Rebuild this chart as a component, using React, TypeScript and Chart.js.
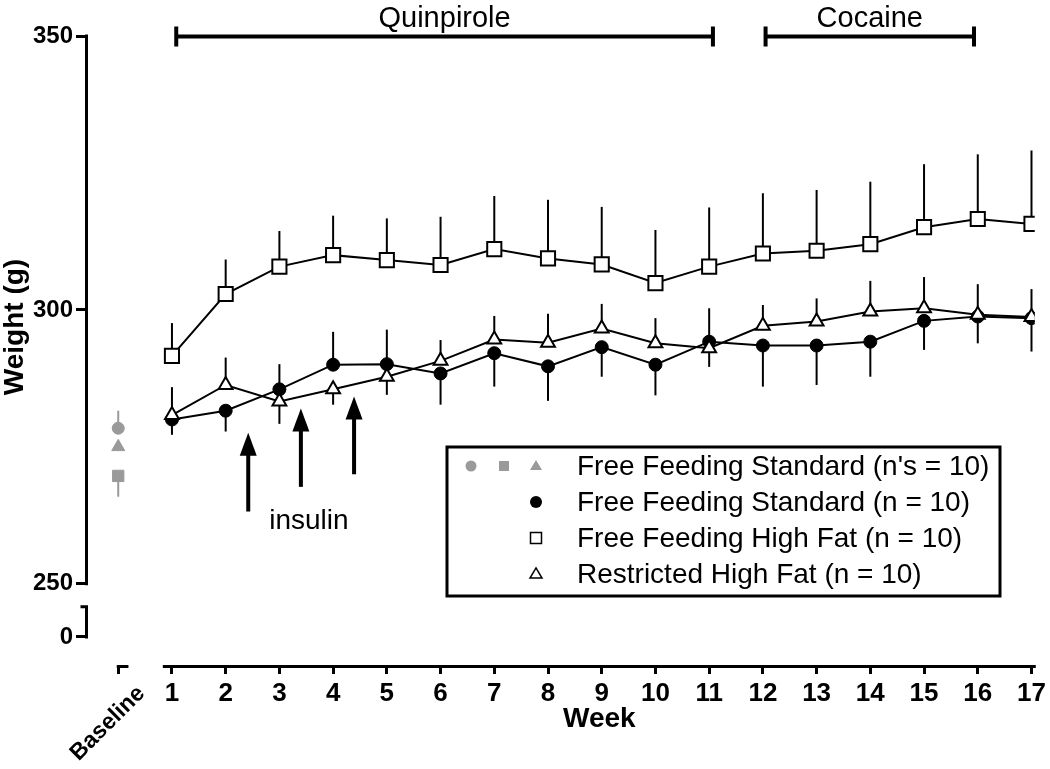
import React, { useEffect, useRef } from 'react';
import { Chart, registerables } from 'chart.js';

Chart.register(...registerables);

// ---------- data ----------
const weeks = [1, 2, 3, 4, 5, 6, 7, 8, 9, 10, 11, 12, 13, 14, 15, 16, 17];

const freeStdMean = [280.0, 281.6, 285.5, 290.0, 290.1, 288.4, 292.1, 289.7, 293.2, 290.0, 294.2, 293.5, 293.5, 294.2, 298.0, 298.8, 298.5];
const freeStdErrUp = [0, 0, 4.6, 6.0, 6.3, 0, 0, 0, 0, 0, 6.1, 0, 0, 0, 0, 0, 0];
const freeStdErrDown = [2.8, 3.8, 0, 0, 0, 5.7, 6.1, 6.3, 5.4, 5.6, 0, 7.5, 7.2, 6.4, 5.3, 4.9, 6.1];

const freeHfMean = [291.6, 302.9, 307.9, 310.0, 309.1, 308.2, 311.1, 309.4, 308.3, 304.9, 307.9, 310.3, 310.8, 312.0, 315.1, 316.6, 315.7];
const freeHfErrUp = [6.0, 6.3, 6.5, 7.2, 7.6, 8.8, 9.7, 10.7, 10.5, 9.7, 10.8, 11.0, 11.1, 11.4, 11.5, 11.8, 13.4];

const restrHfMean = [280.8, 286.3, 283.3, 285.5, 287.8, 290.7, 294.6, 294.0, 296.6, 293.9, 293.0, 297.1, 297.9, 299.7, 300.3, 299.1, 298.7];
const restrHfErrUp = [5.1, 5.0, 0, 0, 0, 3.8, 4.3, 5.3, 4.5, 4.6, 0, 3.8, 4.2, 5.6, 5.7, 5.6, 5.1];
const restrHfErrDown = [0, 0, 4.1, 2.8, 3.3, 0, 0, 0, 0, 0, 3.4, 0, 0, 0, 0, 0, 0];

const baselineWeek = 0;
const baselineShapes = ['circle', 'triangle', 'rect'];
const baselineMean = [278.4, 275.0, 269.7];
const baselineErrUp = [3.2, 0, 0];
const baselineErrDown = [0, 0, 3.8];

const yTickValues = [250, 300, 350];
const yBreakValue = 240.3; // where the "0" of the broken axis sits
const yBreakTop = 245.8;
const xTickValues = [0, 1, 2, 3, 4, 5, 6, 7, 8, 9, 10, 11, 12, 13, 14, 15, 16, 17];

const phaseLabels = ['Quinpirole', 'Cocaine'];
const phaseStart = [1.08, 12.05];
const phaseEnd = [11.07, 15.93];

const insulinWeeks = [2.42, 3.4, 4.39];
const insulinTop = [277.6, 282.0, 284.2];
const insulinBottom = [263.2, 267.7, 270.0];

const legendLabels = [
  "Free Feeding Standard (n's = 10)",
  'Free Feeding Standard (n = 10)',
  'Free Feeding High Fat (n = 10)',
  'Restricted High Fat (n = 10)',
];

// ---------- styles ----------
const GRAY = '#9a9a9a';
const FONT = '"Liberation Sans", Arial, Helvetica, sans-serif';
const NARROW = '"Liberation Sans Narrow", "Arial Narrow", "Liberation Sans", Arial, sans-serif';

function marker(ctx: CanvasRenderingContext2D, shape: string, x: number, y: number, s: number, fill: string, stroke: string, lw: number) {
  ctx.save();
  ctx.beginPath();
  if (shape === 'circle') {
    ctx.arc(x, y, s, 0, Math.PI * 2);
  } else if (shape === 'rect') {
    ctx.rect(x - s, y - s, 2 * s, 2 * s);
  } else {
    const h = s * 1.7;
    ctx.moveTo(x, y - h * 0.6);
    ctx.lineTo(x + s, y + h * 0.4);
    ctx.lineTo(x - s, y + h * 0.4);
    ctx.closePath();
  }
  ctx.fillStyle = fill;
  ctx.fill();
  if (lw > 0) {
    ctx.lineWidth = lw;
    ctx.strokeStyle = stroke;
    ctx.stroke();
  }
  ctx.restore();
}

export default function App() {
  const ref = useRef<HTMLCanvasElement>(null);

  useEffect(() => {
    document.body.style.margin = '0';
    const canvas = ref.current!;
    const toXY = (ys: number[]) => weeks.map((w, i) => ({ x: w, y: ys[i] }));

    const errorBars = {
      id: 'errorBars',
      beforeDatasetsDraw(chart: any) {
        const { ctx } = chart;
        const xs = chart.scales.x;
        const ys = chart.scales.y;
        chart.data.datasets.forEach((ds: any) => {
          ctx.save();
          ctx.strokeStyle = ds.errColor || '#000';
          ctx.lineWidth = 2;
          ds.data.forEach((p: any, i: number) => {
            const px = xs.getPixelForValue(p.x);
            const py = ys.getPixelForValue(p.y);
            const up = (ds.errUp && ds.errUp[i]) || 0;
            const dn = (ds.errDown && ds.errDown[i]) || 0;
            if (up > 0) {
              ctx.beginPath();
              ctx.moveTo(px, py);
              ctx.lineTo(px, ys.getPixelForValue(p.y + up));
              ctx.stroke();
            }
            if (dn > 0) {
              ctx.beginPath();
              ctx.moveTo(px, py);
              ctx.lineTo(px, ys.getPixelForValue(p.y - dn));
              ctx.stroke();
            }
          });
          ctx.restore();
        });
      },
    };

    const decor = {
      id: 'decor',
      afterDraw(chart: any) {
        const { ctx, chartArea } = chart;
        const xs = chart.scales.x;
        const ys = chart.scales.y;
        const X = (v: number) => xs.getPixelForValue(v);
        const Y = (v: number) => ys.getPixelForValue(v);
        ctx.save();
        ctx.strokeStyle = '#000';
        ctx.fillStyle = '#000';
        ctx.lineCap = 'butt';

        // y axis (broken)
        const ax = chartArea.left + 0.5;
        ctx.lineWidth = 3;
        ctx.beginPath();
        ctx.moveTo(ax, Y(350) - 1.5);
        ctx.lineTo(ax, Y(250) + 1.5);
        ctx.stroke();
        ctx.beginPath();
        ctx.moveTo(ax - 6, Y(yBreakTop));
        ctx.lineTo(ax, Y(yBreakTop));
        ctx.lineTo(ax, Y(yBreakValue) + 1.5);
        ctx.stroke();

        // x axis (broken)
        const ay = chartArea.bottom + 0.5;
        ctx.beginPath();
        ctx.moveTo(X(0.83), ay);
        ctx.lineTo(X(17.08), ay);
        ctx.stroke();
        ctx.beginPath();
        ctx.moveTo(X(baselineWeek) - 1.5, ay);
        ctx.lineTo(X(baselineWeek + 0.19), ay);
        ctx.stroke();

        // axis titles
        ctx.font = `bold 28px ${FONT}`;
        ctx.textAlign = 'center';
        ctx.textBaseline = 'middle';
        ctx.save();
        ctx.translate(15, 327);
        ctx.rotate(-Math.PI / 2);
        ctx.fillText('Weight (g)', 0, 0);
        ctx.restore();

        ctx.font = `bold 28px ${NARROW}`;
        ctx.fillText('Week', (X(0.83) + X(17.08)) / 2, chartArea.bottom + 53);

        ctx.font = `bold 23px ${FONT}`;
        ctx.save();
        ctx.translate(X(baselineWeek) + 23, chartArea.bottom + 24);
        ctx.rotate(-Math.PI / 4);
        ctx.textAlign = 'right';
        ctx.fillText('Baseline', 0, 0);
        ctx.restore();

        // treatment phase bars
        ctx.lineWidth = 4;
        const by = chartArea.top + 0.5;
        phaseLabels.forEach((lab, i) => {
          const x1 = X(phaseStart[i]);
          const x2 = X(phaseEnd[i]);
          ctx.beginPath();
          ctx.moveTo(x1, by);
          ctx.lineTo(x2, by);
          ctx.moveTo(x1, by - 10);
          ctx.lineTo(x1, by + 10);
          ctx.moveTo(x2, by - 10);
          ctx.lineTo(x2, by + 10);
          ctx.stroke();
          ctx.font = `29px ${FONT}`;
          ctx.textAlign = 'center';
          ctx.textBaseline = 'alphabetic';
          ctx.fillText(lab, (x1 + x2) / 2, by - 10);
        });

        // insulin arrows
        insulinWeeks.forEach((w, i) => {
          const x = X(w);
          const t = Y(insulinTop[i]);
          const b = Y(insulinBottom[i]);
          ctx.fillRect(x - 2, t + 18, 4, b - t - 18);
          ctx.beginPath();
          ctx.moveTo(x, t);
          ctx.lineTo(x + 8.5, t + 23);
          ctx.lineTo(x - 8.5, t + 23);
          ctx.closePath();
          ctx.fill();
        });
        ctx.font = `28px ${FONT}`;
        ctx.textAlign = 'center';
        ctx.textBaseline = 'alphabetic';
        ctx.fillText('insulin', X(insulinWeeks[1]) + 8, Y(insulinBottom[0]) + 17);

        // legend
        const lx = 447, lt = 447, lw = 553, lh = 149;
        ctx.lineWidth = 3;
        ctx.strokeRect(lx, lt, lw, lh);
        const rows = [466, 502, 538, 574];
        ctx.font = `28px ${FONT}`;
        ctx.textAlign = 'left';
        ctx.textBaseline = 'middle';
        legendLabels.forEach((lab, i) => ctx.fillText(lab, 577, rows[i] + 1));
        marker(ctx, 'circle', 471, rows[0], 5.5, GRAY, GRAY, 0);
        marker(ctx, 'rect', 504, rows[0], 5, GRAY, GRAY, 0);
        marker(ctx, 'triangle', 536, rows[0], 6, GRAY, GRAY, 0);
        marker(ctx, 'circle', 536, rows[1], 6, '#000', '#000', 0);
        marker(ctx, 'rect', 536, rows[2], 5.5, '#fff', '#000', 1.5);
        marker(ctx, 'triangle', 536, rows[3], 6, '#fff', '#000', 1.5);

        ctx.restore();
      },
    };

    const chart = new Chart(canvas, {
      type: 'line',
      data: {
        datasets: [
          {
            label: legendLabels[3],
            data: toXY(restrHfMean),
            errUp: restrHfErrUp,
            errDown: restrHfErrDown,
            borderColor: '#000',
            borderWidth: 2,
            pointStyle: 'triangle',
            pointRadius: 8,
            pointBackgroundColor: '#fff',
            pointBorderColor: '#000',
            pointBorderWidth: 2,
            order: 0,
          } as any,
          {
            label: legendLabels[1],
            data: toXY(freeStdMean),
            errUp: freeStdErrUp,
            errDown: freeStdErrDown,
            borderColor: '#000',
            borderWidth: 2,
            pointStyle: 'circle',
            pointRadius: 6.5,
            pointBackgroundColor: '#000',
            pointBorderColor: '#000',
            pointBorderWidth: 1,
            order: 1,
          },
          {
            label: legendLabels[2],
            data: toXY(freeHfMean),
            errUp: freeHfErrUp,
            borderColor: '#000',
            borderWidth: 2,
            pointStyle: 'rect',
            pointRadius: 10,
            pointBackgroundColor: '#fff',
            pointBorderColor: '#000',
            pointBorderWidth: 2,
            order: 2,
          },
          {
            label: legendLabels[0],
            data: baselineMean.map((v) => ({ x: baselineWeek, y: v })),
            errUp: baselineErrUp,
            errDown: baselineErrDown,
            errColor: GRAY,
            showLine: false,
            pointStyle: baselineShapes,
            pointRadius: [6, 7.5, 8],
            pointBackgroundColor: GRAY,
            pointBorderColor: GRAY,
            pointBorderWidth: 1,
            order: 3,
          },
        ] as any,
      },
      options: {
        animation: false,
        responsive: false,
        events: [],
        layout: { padding: { left: 0, top: 36, right: 14, bottom: 0 } },
        plugins: { legend: { display: false }, tooltip: { enabled: false } },
        scales: {
          x: {
            type: 'linear',
            min: -0.6,
            max: 17.06,
            afterBuildTicks: (s: any) => {
              s.ticks = xTickValues.map((v) => ({ value: v }));
            },
            afterFit: (s: any) => {
              s.height = 103;
            },
            ticks: {
              callback: (v: any) => (v === baselineWeek ? '' : String(v)),
              font: { family: NARROW, size: 26, weight: 'bold' },
              color: '#000',
              maxRotation: 0,
              autoSkip: false,
              padding: 4,
            },
            grid: { drawOnChartArea: false, drawTicks: true, tickLength: 8, tickWidth: 3, tickColor: '#000', color: '#000' },
            border: { display: false },
          },
          y: {
            type: 'linear',
            min: 235,
            max: 350,
            afterBuildTicks: (s: any) => {
              s.ticks = [yBreakValue, ...yTickValues].map((v) => ({ value: v }));
            },
            afterFit: (s: any) => {
              s.width = 86;
            },
            ticks: {
              callback: (v: any) => (v === yBreakValue ? '0' : String(v)),
              font: { family: FONT, size: 24, weight: 'bold' },
              color: '#000',
              padding: 3,
            },
            grid: { drawOnChartArea: false, drawTicks: true, tickLength: 10, tickWidth: 3, tickColor: '#000', color: '#000' },
            border: { display: false },
          },
        },
      } as any,
      plugins: [errorBars, decor],
    });

    return () => chart.destroy();
  }, []);

  return (
    <div style={{ width: 1050, height: 769 }}>
      <canvas ref={ref} width={1050} height={769} style={{ display: 'block' }} />
    </div>
  );
}
